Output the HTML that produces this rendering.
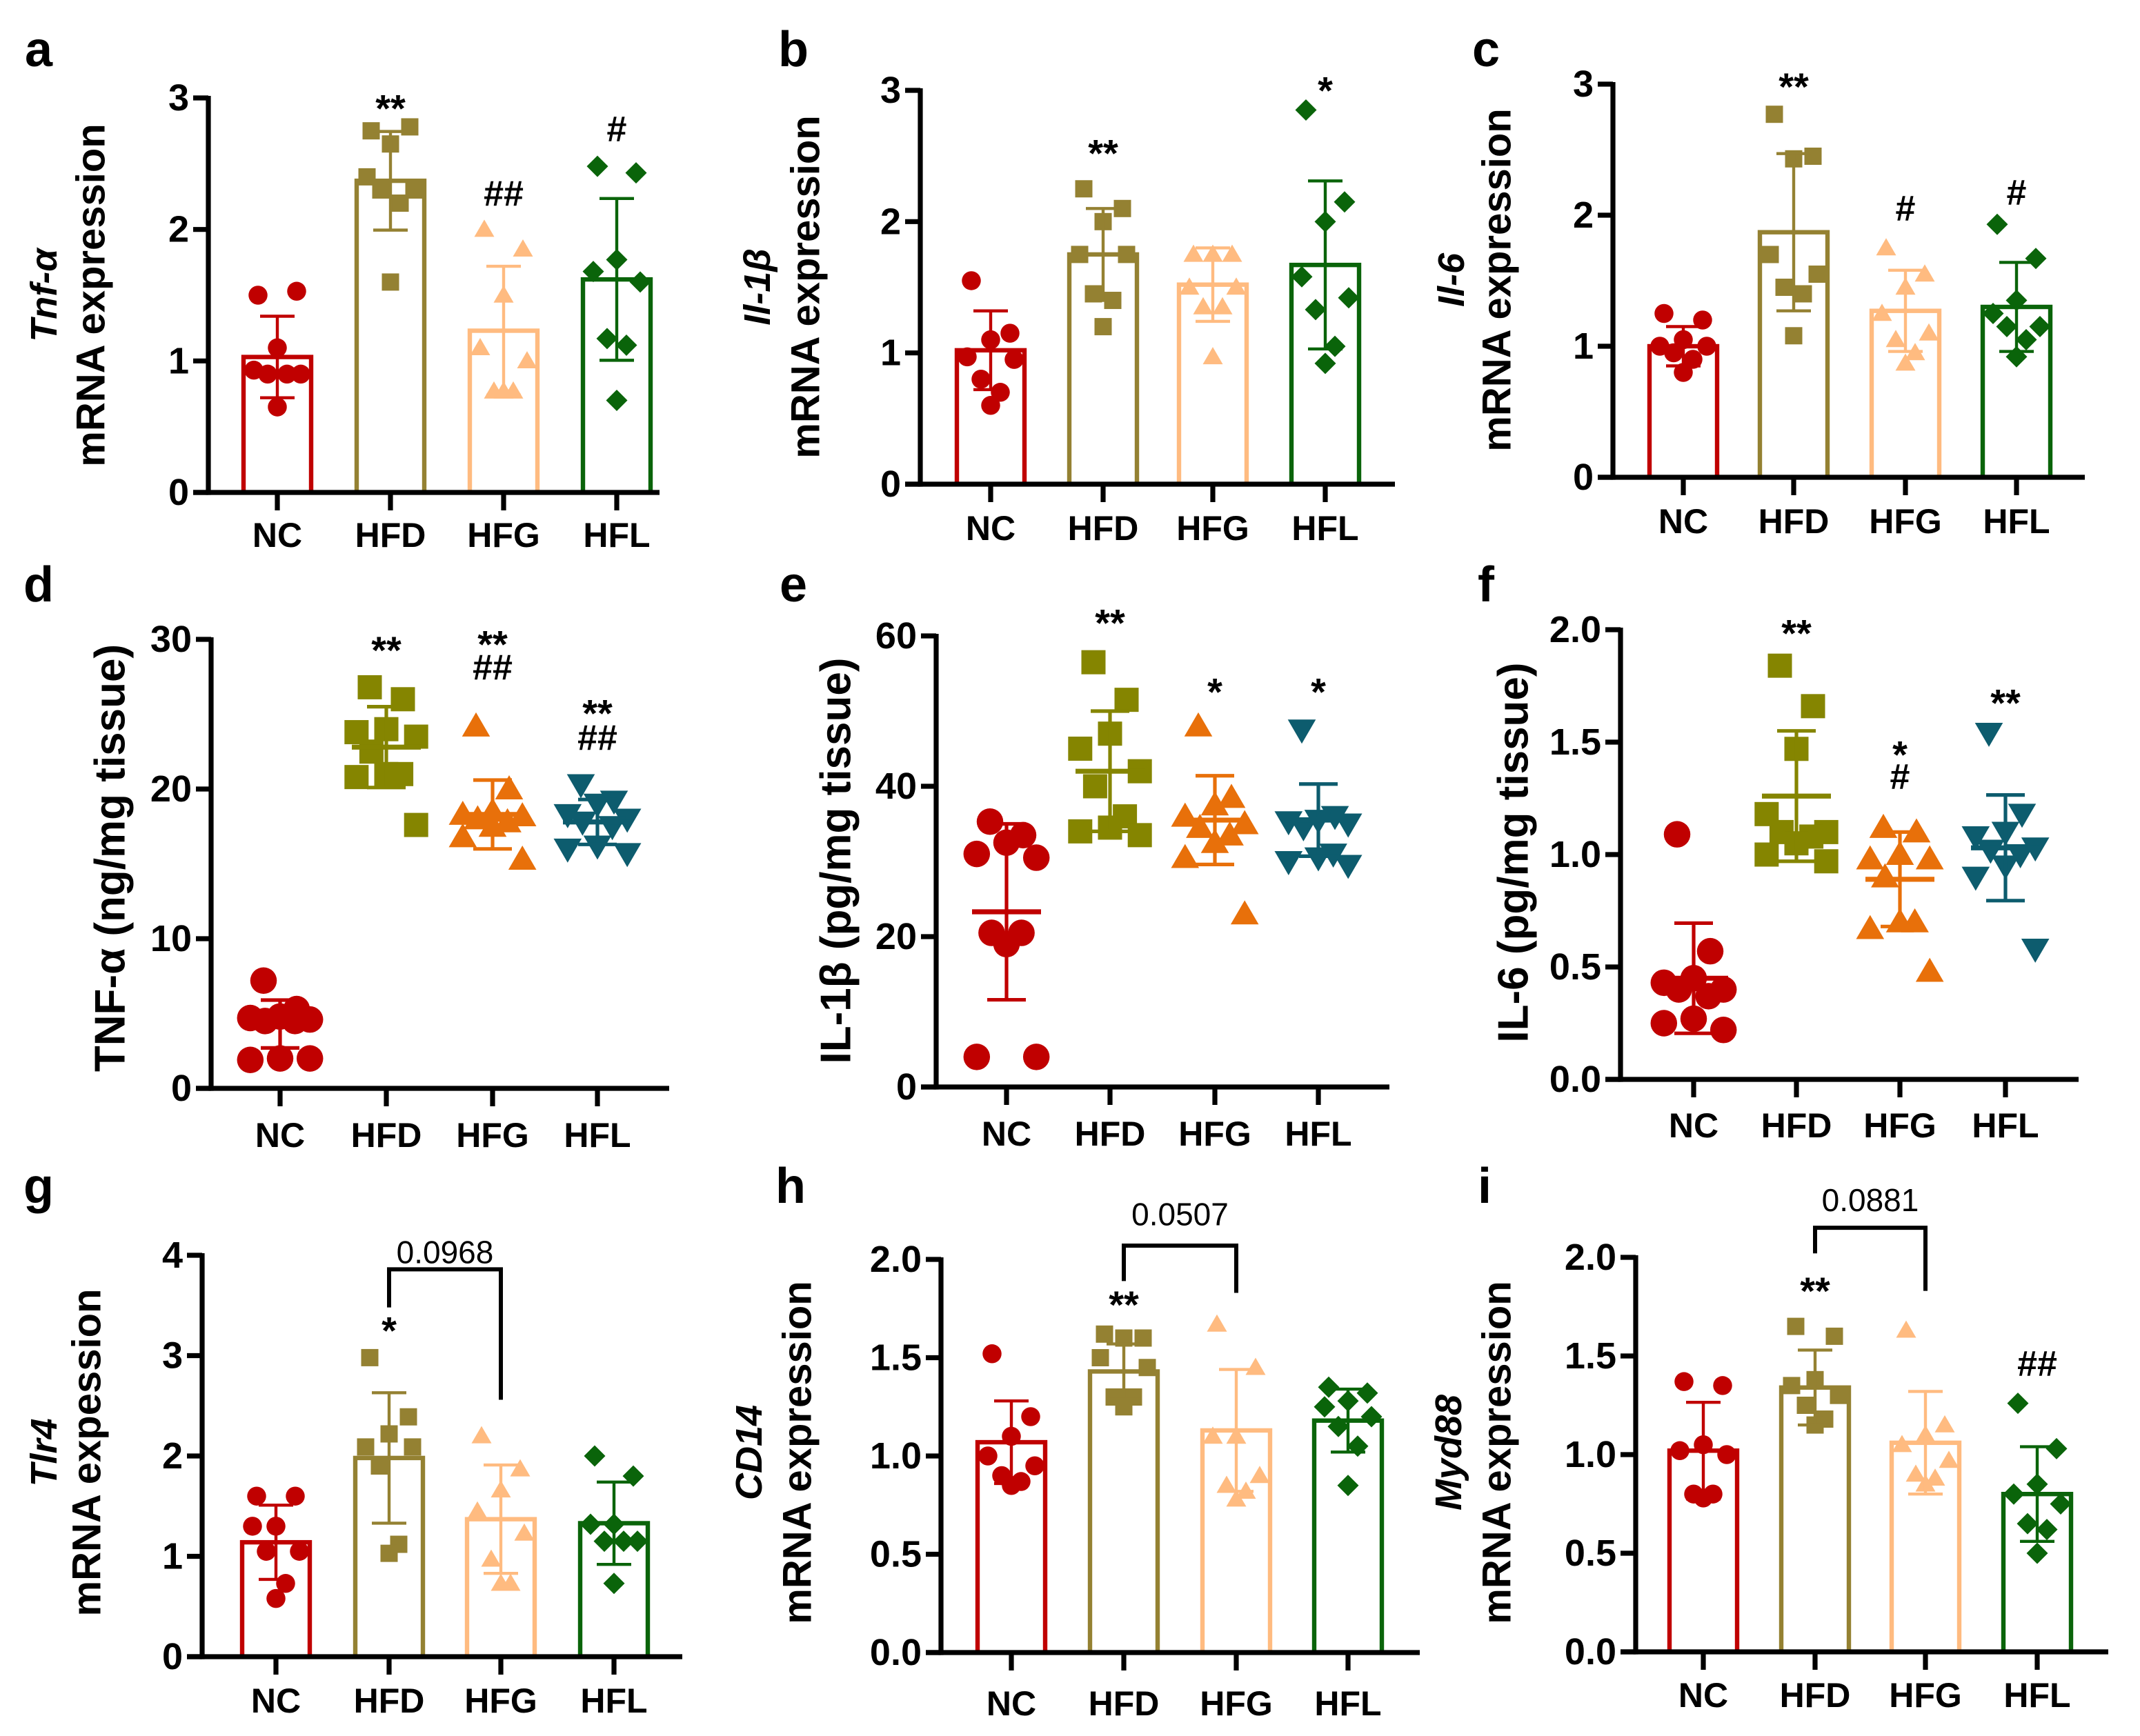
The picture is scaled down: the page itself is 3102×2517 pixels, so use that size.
<!DOCTYPE html>
<html><head><meta charset="utf-8"><style>
html,body{margin:0;padding:0;background:#fff;}
svg{display:block;}
text{font-family:"Liberation Sans",Arial,sans-serif;}
</style></head>
<body>
<svg id="fig" width="3102" height="2517" viewBox="0 0 1551 1258.5" xmlns="http://www.w3.org/2000/svg"></svg>
<script>
const cats = ["NC","HFD","HFG","HFL"];
const barCols = ["#c00000","#948132","#ffbb80","#0a640a"];
const dotCols = ["#c00000","#858500","#e8700a","#0d5c6e"];

/* panel a: Tnf-a mRNA */
const a_mean = [1.03,2.37,1.23,1.62];
const a_sd = [0.31,0.375,0.49,0.615];
const a_pts = [[1.5,1.53,1.1,0.93,0.9,0.9,0.9,0.65],[2.75,2.78,2.65,2.4,2.3,2.3,2.2,1.6],[2.0,1.85,1.5,1.1,1.0,0.77,0.77,0.77],[2.48,2.43,1.77,1.68,1.6,1.17,1.12,0.7]];
/* panel b: Il-1b mRNA */
const b_mean = [1.02,1.75,1.52,1.67];
const b_sd = [0.30,0.35,0.28,0.64];
const b_pts = [[1.55,1.15,1.1,0.97,0.95,0.8,0.7,0.6],[2.25,2.1,2.0,1.75,1.75,1.45,1.4,1.2],[1.75,1.75,1.75,1.5,1.5,1.35,1.35,0.97],[2.85,2.15,2.0,1.58,1.42,1.33,1.05,0.92]];
/* panel c: Il-6 mRNA */
const c_mean = [1.0,1.87,1.27,1.3];
const c_sd = [0.15,0.6,0.31,0.34];
const c_pts = [[1.25,1.2,1.05,1.0,1.0,0.95,0.9,0.8],[2.77,2.45,2.43,1.7,1.55,1.45,1.4,1.08],[1.75,1.55,1.45,1.25,1.1,1.05,0.95,0.87],[1.93,1.67,1.35,1.25,1.15,1.15,1.05,0.92]];
/* panel d: TNF-a protein */
const d_mean = [4.3,22.8,18.3,17.8];
const d_sd = [1.6,2.7,2.3,1.5];
const d_pts = [[7.2,5.3,4.8,4.7,4.6,4.5,4.5,2.0,1.9,2.0],[26.8,26.0,24.0,23.8,23.5,22.5,21.0,21.0,20.8,17.6],[24.2,20.0,18.5,18.3,18.2,18.0,17.8,17.5,16.8,15.3],[20.3,19.2,19.0,18.3,18.0,17.8,17.5,16.2,16.0,15.7]];
/* panel e: IL-1b protein */
const e_mean = [23.3,42,35.5,35.5];
const e_sd = [11.7,8,5.9,4.8];
const e_pts = [[35.3,33.5,32.5,31.0,30.5,20.5,20.5,19.0,4,4],[56.5,51.5,47,45,42,40,36,34.5,34,33.5],[48,38.5,37.5,36,35,34.5,33.5,32.5,30.5,23],[47.5,36,35.5,35.3,35,34.5,31,30.5,30,29.5]];
/* panel f: IL-6 protein */
const f_mean = [0.45,1.26,0.89,1.03];
const f_sd = [0.245,0.29,0.21,0.235];
const f_pts = [[1.09,0.57,0.45,0.43,0.4,0.4,0.37,0.27,0.25,0.22],[1.84,1.66,1.47,1.18,1.1,1.1,1.08,1.05,1.0,0.97],[1.12,1.1,1.0,0.98,0.98,0.9,0.7,0.7,0.67,0.48],[1.54,1.18,1.1,1.08,1.03,1.02,1.0,0.95,0.9,0.58]];
/* panel g: Tlr4 mRNA */
const g_mean = [1.14,1.98,1.37,1.33];
const g_sd = [0.37,0.65,0.54,0.41];
const g_pts = [[1.6,1.6,1.3,1.3,1.05,1.05,0.73,0.58],[2.98,2.39,2.22,2.09,2.09,1.9,1.12,1.03],[2.2,1.87,1.66,1.45,1.23,0.97,0.73,0.73],[2.0,1.8,1.32,1.32,1.15,1.15,1.15,0.73]];
/* panel h: CD14 mRNA */
const h_mean = [1.07,1.43,1.13,1.18];
const h_sd = [0.21,0.14,0.31,0.16];
const h_pts = [[1.52,1.2,1.1,1.0,0.95,0.9,0.87,0.85],[1.62,1.6,1.6,1.5,1.45,1.3,1.3,1.25],[1.67,1.45,1.1,1.1,0.9,0.85,0.82,0.78],[1.35,1.32,1.28,1.25,1.2,1.15,1.05,0.85]];
/* panel i: Myd88 mRNA */
const i_mean = [1.02,1.34,1.06,0.8];
const i_sd = [0.245,0.19,0.26,0.24];
const i_pts = [[1.37,1.35,1.05,1.02,1.0,0.8,0.8,0.78],[1.65,1.6,1.38,1.35,1.3,1.25,1.18,1.15],[1.63,1.15,1.1,1.05,0.97,0.9,0.88,0.85],[1.26,1.03,0.85,0.8,0.75,0.65,0.62,0.5]];

/* significance labels: [category index, value position, text] */
const a_sig = [[1,2.98,"**"],[2,2.28,"##"],[3,2.77,"#"]];
const b_sig = [[1,2.58,"**"],[3,3.06,"*"]];
const c_sig = [[1,3.04,"**"],[2,2.06,"#"],[3,2.18,"#"]];
const d_sig = [[1,29.8,"**"],[2,30.2,"**"],[2,28.2,"##"],[3,25.6,"**"],[3,23.5,"##"]];
const e_sig = [[1,62.8,"**"],[2,53.6,"*"],[3,53.6,"*"]];
const f_sig = [[1,2.02,"**"],[2,1.48,"*"],[2,1.35,"#"],[3,1.71,"**"]];
const g_sig = [[1,3.33,"*"]];
const h_sig = [[1,1.81,"**"]];
const i_sig = [[1,1.87,"**"],[3,1.465,"##"]];
/* brackets: [top, leftLegEnd, rightLegEnd, labelPos, label] */
const g_brk = [3.86,3.48,2.56,4.03,"0.0968"];
const h_brk = [2.07,1.89,1.83,2.23,"0.0507"];
const i_brk = [2.15,2.02,1.83,2.29,"0.0881"];

const a_ticks = [0,1,2,3], b_ticks=[0,1,2,3], c_ticks=[0,1,2,3];
const d_ticks = [0,10,20,30], e_ticks=[0,20,40,60];
const f_ticks = ["0.0","0.5","1.0","1.5","2.0"];
const g_ticks = [0,1,2,3,4];
const h_ticks = ["0.0","0.5","1.0","1.5","2.0"], i_ticks=["0.0","0.5","1.0","1.5","2.0"];

const NS="http://www.w3.org/2000/svg";
const svg=document.getElementById('fig');
function mk(tag,attrs,parent,txt){const e=document.createElementNS(NS,tag);for(const k in attrs)e.setAttribute(k,attrs[k]);if(txt!==undefined)e.textContent=txt;(parent||svg).appendChild(e);return e;}

const panels=[
 {id:'a',letter:[28,48],ax:151,y0:357,y1:71,max:3,xs:[201,283,365,447],xend:478,ticks:a_ticks,mean:a_mean,sd:a_sd,pts:a_pts,sig:a_sig,type:'bar',catY:388,t1:'Tnf-α',t2:'mRNA expression',tx1:32,tx2:66,ty:214},
 {id:'b',letter:[575,48],ax:667,y0:351,y1:65.5,max:3,xs:[718,799.5,879,960.5],xend:1011,ticks:b_ticks,mean:b_mean,sd:b_sd,pts:b_pts,sig:b_sig,type:'bar',catY:383,t1:'Il-1β',t2:'mRNA expression',tx1:549,tx2:584,ty:208},
 {id:'c',letter:[1077,48],ax:1169,y0:346,y1:61,max:3,xs:[1220,1300,1381,1461.5],xend:1511,ticks:c_ticks,mean:c_mean,sd:c_sd,pts:c_pts,sig:c_sig,type:'bar',catY:378,t1:'Il-6',t2:'mRNA expression',tx1:1052,tx2:1085,ty:203},
 {id:'d',letter:[28,436],ax:153,y0:789,y1:463.5,max:30,xs:[203,280,357,433],xend:485,ticks:d_ticks,mean:d_mean,sd:d_sd,pts:d_pts,sig:d_sig,type:'dot',catY:823,t2:'TNF-α (ng/mg tissue)',tx2:80,ty:622},
 {id:'e',letter:[575,436],ax:678.5,y0:788,y1:461,max:60,xs:[729.5,804.5,880.5,955.5],xend:1007,ticks:e_ticks,mean:e_mean,sd:e_sd,pts:e_pts,sig:e_sig,type:'dot',catY:822,t2:'IL-1β (pg/mg tissue)',tx2:606,ty:624},
 {id:'f',letter:[1077,436],ax:1174.5,y0:782.5,y1:456.5,max:2,xs:[1227.5,1302,1377,1453.5],xend:1506.5,ticks:f_ticks,mean:f_mean,sd:f_sd,pts:f_pts,sig:f_sig,type:'dot',catY:816,t2:'IL-6 (pg/mg tissue)',tx2:1097,ty:618},
 {id:'g',letter:[28,872],ax:146.5,y0:1201,y1:910,max:4,xs:[200,282,363,445],xend:494.5,ticks:g_ticks,mean:g_mean,sd:g_sd,pts:g_pts,sig:g_sig,brk:g_brk,type:'bar',catY:1233,t1:'Tlr4',t2:'mRNA expession',tx1:32,tx2:63,ty:1053},
 {id:'h',letter:[573,872],ax:682,y0:1198,y1:913,max:2,xs:[733,814.5,896,977],xend:1029,ticks:h_ticks,mean:h_mean,sd:h_sd,pts:h_pts,sig:h_sig,brk:h_brk,type:'bar',catY:1235,t1:'CD14',t2:'mRNA expression',tx1:543,tx2:578,ty:1053},
 {id:'i',letter:[1076,872],ax:1185.5,y0:1197.5,y1:911.5,max:2,xs:[1234.5,1315.5,1395.5,1476.5],xend:1528,ticks:i_ticks,mean:i_mean,sd:i_sd,pts:i_pts,sig:i_sig,brk:i_brk,type:'bar',catY:1229,t1:'Myd88',t2:'mRNA expression',tx1:1050,tx2:1085,ty:1053}
];

const jit8=[-0.7,0.7,0,-0.85,0.85,-0.35,0.35,0];
const jit10=[-0.5,0.5,0,-0.9,0.9,-0.45,0.45,0,-0.9,0.9];

function marker(g,type,ci,cx,cy,col,s){
  let m;
  if(ci===0){m=mk('circle',{cx:cx,cy:cy,r:s*0.55,fill:col},g);}
  else if(ci===1){m=mk('rect',{x:cx-s/2,y:cy-s/2,width:s,height:s,fill:col},g);}
  else if(ci===2){const h=s*0.95;m=mk('polygon',{points:`${cx},${cy-h*0.6} ${cx-s*0.58},${cy+h*0.45} ${cx+s*0.58},${cy+h*0.45}`,fill:col},g);}
  else if(type==='bar'){const r=s*0.62;m=mk('polygon',{points:`${cx},${cy-r} ${cx+r},${cy} ${cx},${cy+r} ${cx-r},${cy}`,fill:col},g);}
  else {const h=s*0.95;m=mk('polygon',{points:`${cx},${cy+h*0.6} ${cx-s*0.58},${cy-h*0.45} ${cx+s*0.58},${cy-h*0.45}`,fill:col},g);}
  return m;
}

panels.forEach(p=>{
  const g=mk('g',{});
  
  
  const Y=v=>p.y0-(v/p.max)*(p.y0-p.y1);
  const lt=mk('text',{x:p.letter[0],y:p.letter[1],'font-size':36,'font-weight':'bold','text-anchor':'middle'},g,p.id);
  
  
  const tg=mk('g',{},g);
  
  
  if(p.t1){mk('text',{x:p.tx1,y:p.ty,transform:`rotate(-90 ${p.tx1} ${p.ty})`,'font-size':27,'font-weight':'bold','font-style':'italic','text-anchor':'middle','dominant-baseline':'central'},tg,p.t1);}
  mk('text',{x:p.tx2,y:p.ty,transform:`rotate(-90 ${p.tx2} ${p.ty})`,'font-size':p.type==='dot'?31:29,'font-weight':'bold','text-anchor':'middle','dominant-baseline':'central'},tg,p.t2);
  const col=p.type==='bar'?barCols:dotCols;
  const bw=49;
  if(p.type==='bar'){
    p.mean.forEach((m,ci)=>{
      const r=mk('rect',{x:p.xs[ci]-bw/2,y:Y(m),width:bw,height:p.y0-Y(m),fill:'#fff',stroke:col[ci],'stroke-width':3.2},g);
      
      
    });
  }
  const ms=p.type==='bar'?12.5:17.5;
  const spread=p.type==='bar'?20:24;
  p.pts.forEach((arr,ci)=>{
    const jit=arr.length>8?jit10:jit8;
    arr.forEach((v,k)=>{
      const m=marker(g,p.type,ci,p.xs[ci]+jit[k]*spread,Y(v),col[ci],ms);
      
      
    });
  });
  p.mean.forEach((m,ci)=>{
    const eg=mk('g',{stroke:col[ci],'stroke-width':p.type==='bar'?2.2:2.6,fill:'none'},g);
    
    
    const x=p.xs[ci],hi=Y(m+p.sd[ci]),lo=Y(m-p.sd[ci]);
    const cw=p.type==='bar'?12.5:14;
    mk('line',{x1:x,x2:x,y1:hi,y2:lo},eg);
    mk('line',{x1:x-cw,x2:x+cw,y1:hi,y2:hi},eg);
    mk('line',{x1:x-cw,x2:x+cw,y1:lo,y2:lo},eg);
    if(p.type==='dot'){mk('line',{x1:x-25,x2:x+25,y1:Y(m),y2:Y(m),'stroke-width':3.6},eg);}
  });
  const ya=mk('g',{stroke:'#000','stroke-width':3.6},g);
  
  
  mk('line',{x1:p.ax,x2:p.ax,y1:p.y1-1.5,y2:p.y0+1.8},ya);
  p.ticks.forEach(t=>{
    const v=parseFloat(t);
    mk('line',{x1:p.ax-11,x2:p.ax,y1:Y(v),y2:Y(v)},ya);
    const tl=mk('text',{x:p.ax-14,y:Y(v),'font-size':27,'font-weight':'bold','text-anchor':'end','dominant-baseline':'central',stroke:'none'},g,String(t));
    
    
  });
  const xa=mk('g',{stroke:'#000','stroke-width':3.6},g);
  
  
  mk('line',{x1:p.ax-11,x2:p.xend,y1:p.y0,y2:p.y0},xa);
  cats.forEach((c,ci)=>{
    mk('line',{x1:p.xs[ci],x2:p.xs[ci],y1:p.y0,y2:p.y0+13},xa);
    const cl=mk('text',{x:p.xs[ci],y:p.catY,'font-size':25,'font-weight':'bold','text-anchor':'middle','dominant-baseline':'central'},g,c);
    
    
  });
  p.sig.forEach(s=>{
    const isStar=s[2].indexOf('*')>=0;
    const fs=isStar?28:26;
    const t=mk('text',{x:p.xs[s[0]],y:Y(s[1])+(isStar?fs*0.55:fs*0.36),'font-size':fs,'font-weight':'bold','text-anchor':'middle'},g,s[2]);
    
    
  });
  if(p.brk){
    const b=p.brk,xl=p.xs[1],xr=p.xs[2];
    const bg=mk('g',{},g);
    
    
    mk('polyline',{points:`${xl},${Y(b[1])} ${xl},${Y(b[0])} ${xr},${Y(b[0])} ${xr},${Y(b[2])}`,fill:'none',stroke:'#000','stroke-width':3},bg);
    mk('text',{x:(xl+xr)/2,y:Y(b[3]),'font-size':23,'text-anchor':'middle','dominant-baseline':'central'},bg,b[4]);
  }
});
</script>
</body></html>
